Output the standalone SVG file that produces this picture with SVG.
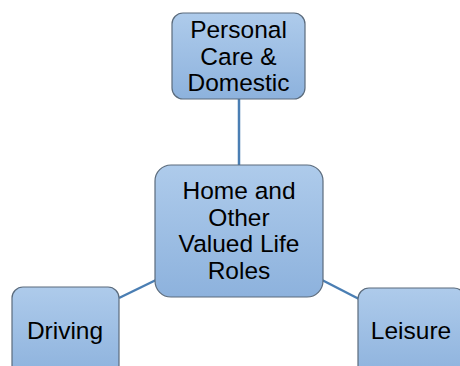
<svg xmlns="http://www.w3.org/2000/svg" width="460" height="366" viewBox="0 0 460 366">
<defs>
<linearGradient id="g" x1="0" y1="0" x2="0" y2="1">
<stop offset="0" stop-color="#aecbeb"/>
<stop offset="1" stop-color="#8db2dd"/>
</linearGradient>
<style>
.n{fill:url(#g);stroke:#5b6b7c;stroke-width:1.2}
.t{font-family:"Liberation Sans",Arial,sans-serif;font-size:24.5px;fill:#000;text-anchor:middle}
.c{stroke:#4a7eb3;stroke-width:2.5;fill:none}
</style>
</defs>
<rect width="460" height="366" fill="#fff"/>
<g id="connectors">
<line class="c" x1="239" y1="99" x2="239" y2="165"/>
<line class="c" x1="119" y1="298" x2="156" y2="280"/>
<line class="c" x1="322" y1="280" x2="359" y2="299"/>
</g>
<g id="personal">
<rect class="n" x="172" y="13" width="133" height="86" rx="11"/>
<text class="t" x="238.5" y="38">Personal</text>
<text class="t" x="238.5" y="65">Care &amp;</text>
<text class="t" x="238.5" y="91">Domestic</text>
</g>
<g id="home">
<rect class="n" x="155" y="165" width="168" height="132" rx="16"/>
<text class="t" x="239" y="199">Home and</text>
<text class="t" x="239" y="226">Other</text>
<text class="t" x="239" y="252">Valued Life</text>
<text class="t" x="239" y="279">Roles</text>
</g>
<g id="driving">
<rect class="n" x="12" y="287" width="107" height="90" rx="11"/>
<text class="t" x="65" y="339">Driving</text>
</g>
<g id="leisure">
<rect class="n" x="358" y="288" width="107" height="90" rx="11"/>
<text class="t" x="411" y="339">Leisure</text>
</g>
</svg>
